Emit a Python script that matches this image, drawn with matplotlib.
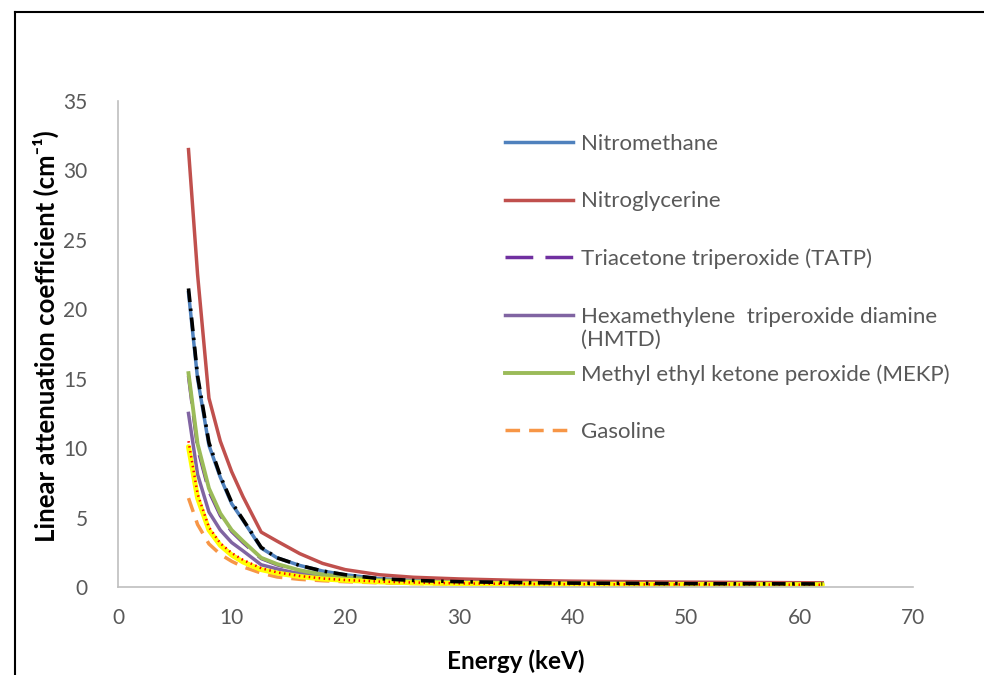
import matplotlib
matplotlib.use("Agg")
import matplotlib.pyplot as plt
from matplotlib.lines import Line2D

plt.rcParams['font.family'] = ['Lato', 'DejaVu Sans']

# photon energy grid (keV)
energy = [6.2, 7, 8, 9, 10, 11, 12.6, 14, 16, 18, 20, 23, 26, 30, 35, 40, 50, 62]

# linear attenuation coefficients (cm^-1)
nitromethane = [21.2, 15.0, 10.2, 7.9, 6.0, 4.8, 2.8, 2.1, 1.55, 1.15, 0.88, 0.6, 0.47, 0.38, 0.31, 0.27, 0.23, 0.2]
nitroglycerine = [31.5, 22.5, 13.6, 10.5, 8.3, 6.5, 3.95, 3.3, 2.4, 1.7, 1.25, 0.88, 0.7, 0.58, 0.48, 0.42, 0.35, 0.3]
tatp = [15.2, 10.0, 6.9, 5.15, 4.0, 3.2, 2.05, 1.6, 1.17, 0.88, 0.68, 0.49, 0.39, 0.32, 0.27, 0.24, 0.21, 0.19]
hmtd = [12.5, 8.1, 5.4, 4.1, 3.2, 2.6, 1.6, 1.3, 0.95, 0.72, 0.57, 0.42, 0.34, 0.28, 0.24, 0.21, 0.19, 0.17]
mekp = [15.4, 10.3, 7.1, 5.3, 4.1, 3.3, 2.1, 1.65, 1.2, 0.9, 0.7, 0.5, 0.4, 0.33, 0.28, 0.25, 0.22, 0.2]
gasoline = [6.4, 4.5, 3.1, 2.35, 1.85, 1.45, 1.0, 0.72, 0.55, 0.45, 0.38, 0.3, 0.25, 0.21, 0.18, 0.16, 0.14, 0.12]
# extra series drawn without legend entries
extra_black = [21.5, 15.2, 10.4, 8.0, 6.1, 4.85, 2.85, 2.1, 1.55, 1.15, 0.88, 0.6, 0.47, 0.38, 0.32, 0.28, 0.24, 0.22]
extra_yellow = [10.1, 6.4, 4.1, 3.0, 2.3, 1.8, 1.25, 1.0, 0.75, 0.58, 0.48, 0.37, 0.3, 0.25, 0.21, 0.19, 0.17, 0.15]
extra_reddot = [10.5, 6.7, 4.3, 3.15, 2.45, 1.95, 1.35, 1.05, 0.79, 0.61, 0.5, 0.39, 0.32, 0.26, 0.22, 0.2, 0.18, 0.16]

fig = plt.figure(figsize=(9.84, 6.75), dpi=100)
ax = fig.add_axes([0.12, 0.1304, 0.808, 0.72])

lw = 2.5
ax.plot(energy, nitromethane, color='#4F81BD', lw=lw, label='Nitromethane')
ax.plot(energy, nitroglycerine, color='#C0504D', lw=lw, label='Nitroglycerine')
ax.plot(energy, tatp, color='#7030A0', lw=lw, dashes=(8, 3.5), label='Triacetone triperoxide (TATP)')
ax.plot(energy, hmtd, color='#8064A2', lw=lw, label='Hexamethylene  triperoxide diamine')
ax.plot(energy, mekp, color='#9BBB59', lw=2.8, label='Methyl ethyl ketone peroxide (MEKP)')
ax.plot(energy, gasoline, color='#F79646', lw=lw, dashes=(4.2, 2.6), label='Gasoline')
ax.plot(energy, extra_yellow, color='#FFFF00', lw=3.6, solid_capstyle='round')
ax.plot(energy, extra_reddot, color='#FF0000', lw=1.8, dashes=(0.6, 1.4))
ax.plot(energy, extra_black, color='black', lw=2.6, dashes=(3.8, 1.8, 0.7, 1.8))

ax.set_xlim(0, 70)
ax.set_ylim(0, 35)
ax.set_xticks(range(0, 71, 10))
ax.set_yticks(range(0, 36, 5))
for s in ['top', 'right']:
    ax.spines[s].set_visible(False)
for s in ['left', 'bottom']:
    ax.spines[s].set_color('#BFBFBF')
    ax.spines[s].set_linewidth(1.2)
ax.tick_params(length=0, labelsize=15, labelcolor='#595959')
ax.tick_params(axis='y', pad=22)
ax.tick_params(axis='x', pad=15)

ax.set_xlabel('Energy (keV)', fontsize=17.5, fontweight='bold')
ax.xaxis.set_label_coords(0.5, -0.128)
ax.set_ylabel('Linear attenuation coefficient (cm⁻¹)', fontsize=18.5, fontweight='bold')
ax.yaxis.set_label_coords(-0.074, 0.517)

leg = ax.legend(loc='upper left', bbox_to_anchor=(0.513, 0.8015),
                bbox_transform=fig.transFigure, frameon=False,
                borderpad=0, borderaxespad=0,
                fontsize=16, labelcolor='#595959', handlelength=3.06,
                handletextpad=0.36, labelspacing=1.68)
ax.text(0.5904, 0.4963, '(HMTD)', transform=fig.transFigure, fontsize=16,
        color='#595959', va='center', ha='left')

# outer frame
fig.add_artist(Line2D([0.0152, 0.0152], [0.0, 0.982], color='black', lw=1.5))
fig.add_artist(Line2D([0.0152, 1.0], [0.982, 0.982], color='black', lw=1.5))

fig.savefig('out.png', dpi=100)
